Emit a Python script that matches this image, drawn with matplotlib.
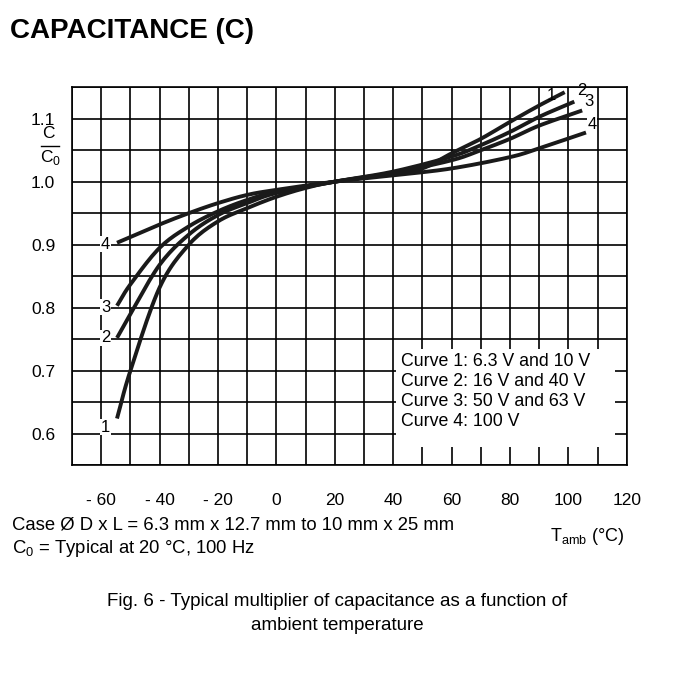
import matplotlib
matplotlib.use("Agg")
import matplotlib.pyplot as plt
from matplotlib.patches import Rectangle
import numpy as np

plt.rcParams["font.family"] = "Liberation Sans"

c1_x = [-54.6, -50, -40, -30, -20, -10, 0, 10, 20, 40, 50, 60, 70, 80, 90, 98.7]
c1_y = [0.624, 0.70, 0.832, 0.90, 0.937, 0.958, 0.976, 0.99, 1.0, 1.013, 1.021, 1.045, 1.068, 1.095, 1.121, 1.142]
c2_x = [-54.6, -50, -40, -30, -20, -10, 0, 20, 40, 60, 70, 80, 90, 102]
c2_y = [0.752, 0.79, 0.868, 0.916, 0.947, 0.966, 0.982, 1.0, 1.016, 1.04, 1.058, 1.079, 1.103, 1.127]
c3_x = [-54.6, -50, -40, -30, -20, -10, 0, 20, 40, 60, 70, 80, 90, 104.7]
c3_y = [0.803, 0.837, 0.895, 0.929, 0.953, 0.971, 0.984, 1.0, 1.014, 1.034, 1.05, 1.068, 1.089, 1.113]
c4_x = [-54.6, -40, -30, -20, -10, 0, 20, 40, 60, 80, 90, 106]
c4_y = [0.903, 0.932, 0.95, 0.966, 0.979, 0.987, 1.0, 1.01, 1.021, 1.039, 1.053, 1.078]
xtick_vals = [-60, -40, -20, 0, 20, 40, 60, 80, 100, 120]
xtick_labels = ["- 60", "- 40", "- 20", "0", "20", "40", "60", "80", "100", "120"]
ytick_vals = [1.1, 1.0, 0.9, 0.8, 0.7, 0.6]
legend_lines = ["Curve 1: 6.3 V and 10 V", "Curve 2: 16 V and 40 V",
                "Curve 3: 50 V and 63 V", "Curve 4: 100 V"]


def smooth(xs, ys, n=12):
    # Catmull-Rom rendering through the read points (drawing only)
    x = np.asarray(xs, float); y = np.asarray(ys, float)
    px = np.concatenate([[2 * x[0] - x[1]], x, [2 * x[-1] - x[-2]]])
    py = np.concatenate([[2 * y[0] - y[1]], y, [2 * y[-1] - y[-2]]])
    ox, oy = [], []
    t = np.linspace(0, 1, n, endpoint=False)
    for i in range(1, len(px) - 2):
        for arr, out in ((px, ox), (py, oy)):
            p0, p1, p2, p3 = arr[i - 1], arr[i], arr[i + 1], arr[i + 2]
            out.extend(0.5 * (2 * p1 + (-p0 + p2) * t + (2 * p0 - 5 * p1 + 4 * p2 - p3) * t ** 2
                              + (-p0 + 3 * p1 - 3 * p2 + p3) * t ** 3))
    ox.append(x[-1]); oy.append(y[-1])
    return ox, oy


fig = plt.figure(figsize=(6.75, 6.81), dpi=100)
ax = fig.add_axes([0.1067, 0.317, 0.822, 0.555])
ax.set_xlim(-70, 120)
ax.set_ylim(0.55, 1.15)
for x in np.arange(-70, 121, 10):
    ax.axvline(x, color="black", lw=1.2, zorder=1)
for y in np.arange(0.55, 1.1501, 0.05):
    ax.axhline(y, color="black", lw=1.2, zorder=1)
for s in ax.spines.values():
    s.set_linewidth(1.2)

ax.add_patch(Rectangle((41, 0.578), 75, 0.157, facecolor="white", edgecolor="none", zorder=2))
for i, t in enumerate(legend_lines):
    ax.text(42.5, 0.715 - i * 0.032, t, fontsize=12.8, va="center", zorder=3)

for xs, ys in [(c1_x, c1_y), (c2_x, c2_y), (c3_x, c3_y), (c4_x, c4_y)]:
    sx, sy = smooth(xs, ys)
    ax.plot(sx, sy, color="#1a1a1a", lw=2.8, zorder=4, solid_capstyle="butt")

bb = dict(facecolor="white", edgecolor="none", pad=0.5)
ax.text(-58.5, 0.61, "1", ha="center", va="center", fontsize=12, zorder=5, bbox=bb)
ax.text(-58.5, 0.752, "2", ha="center", va="center", fontsize=12, zorder=5, bbox=bb)
ax.text(-58.5, 0.801, "3", ha="center", va="center", fontsize=12, zorder=5, bbox=bb)
ax.text(-58.5, 0.901, "4", ha="center", va="center", fontsize=12, zorder=5, bbox=bb)
ax.text(94, 1.137, "1", ha="center", va="center", fontsize=12, zorder=5)
ax.text(104.5, 1.145, "2", ha="center", va="center", fontsize=12, zorder=5)
ax.text(107, 1.128, "3", ha="center", va="center", fontsize=12, zorder=5)
ax.text(108, 1.09, "4", ha="center", va="center", fontsize=12, zorder=5, bbox=bb)

ax.set_xticks(xtick_vals)
ax.set_xticklabels(xtick_labels, fontsize=12.5)
ax.set_yticks(ytick_vals)
ax.set_yticklabels([f"{v:.1f}" for v in ytick_vals], fontsize=12.5)
ax.tick_params(length=0, pad=20, axis="x")
ax.tick_params(length=0, pad=12, axis="y")

fig.text(0.015, 0.955, "CAPACITANCE (C)", fontsize=20, fontweight="bold", va="center")
fig.text(0.062, 0.804, "C", fontsize=12.5, va="center")
fig.lines.append(plt.Line2D([0.06, 0.088], [0.785, 0.785], color="black", lw=1, transform=fig.transFigure))
fig.text(0.06, 0.768, "C$_\\mathregular{0}$", fontsize=12.5, va="center")
fig.text(0.018, 0.229, "Case Ø D x L = 6.3 mm x 12.7 mm to 10 mm x 25 mm", fontsize=13.3, va="center")
fig.text(0.018, 0.195, "C$_\\mathregular{0}$ = Typical at 20 °C, 100 Hz", fontsize=13.3, va="center")
fig.text(0.815, 0.212, "T$_\\mathregular{amb}$ (°C)", fontsize=13, va="center")
fig.text(0.5, 0.117, "Fig. 6 - Typical multiplier of capacitance as a function of", fontsize=13.5, ha="center", va="center")
fig.text(0.5, 0.081, "ambient temperature", fontsize=13.5, ha="center", va="center")

fig.savefig("out.png", dpi=100)
